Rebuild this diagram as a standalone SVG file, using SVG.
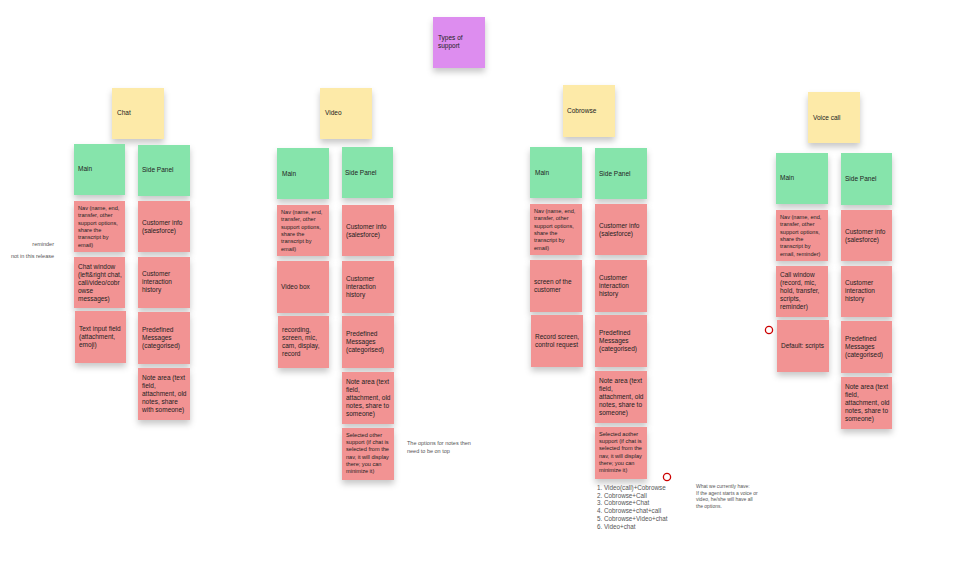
<svg xmlns="http://www.w3.org/2000/svg" width="980" height="574" viewBox="0 0 980 574">
<defs>
<filter id="sh" x="-30%" y="-30%" width="160%" height="180%"><feDropShadow dx="0" dy="4" stdDeviation="3" flood-color="#000" flood-opacity="0.22"/></filter>
<style>
.n{filter:url(#sh)}
.y{fill:#fdeaa8}.g{fill:#86e4ab}.r{fill:#f29393}.p{fill:#dd8def}
text{font-family:"Liberation Sans",Arial,sans-serif;fill:#222}
.t{font-size:6.5px}.s{font-size:5.6px}.a{font-size:5.5px;fill:#555}
.c{fill:none;stroke:#c00;stroke-width:1.3}
</style>
</defs>
<g id="types"><rect class="n p" x="433" y="17" width="52" height="51"/><text class="t" x="438" y="40">Types of</text><text class="t" x="438" y="48">support</text></g>
<g id="connectors"></g>

<g id="chat"><rect class="n y" x="112" y="88" width="52" height="51"/><text class="t" x="117" y="115">Chat</text></g>
<g id="chat-main"><rect class="n g" x="74" y="144" width="51" height="51"/><text class="t" x="78" y="171">Main</text></g>
<g id="chat-side"><rect class="n g" x="138" y="145" width="52" height="51"/><text class="t" x="142" y="172">Side Panel</text></g>
<g id="chat-m1"><rect class="n r" x="74" y="201" width="51" height="51"/><text class="s" x="78" y="210">Nav (name, end,<tspan x="78" dy="7.3">transfer, other</tspan><tspan x="78" dy="7.3">support options,</tspan><tspan x="78" dy="7.3">share the</tspan><tspan x="78" dy="7.3">transcript by</tspan><tspan x="78" dy="7.3">email)</tspan></text></g>
<g id="chat-m2"><rect class="n r" x="74" y="257" width="51" height="51"/><text class="t" x="78" y="269">Chat window<tspan x="78" dy="8">(left&amp;right chat,</tspan><tspan x="78" dy="8">call/video/cobr</tspan><tspan x="78" dy="8">owse</tspan><tspan x="78" dy="8">messages)</tspan></text></g>
<g id="chat-m3"><rect class="n r" x="75" y="311" width="51" height="52"/><text class="t" x="79" y="331">Text input field<tspan x="79" dy="8">(attachment,</tspan><tspan x="79" dy="8">emoji)</tspan></text></g>
<g id="chat-s1"><rect class="n r" x="138" y="201" width="52" height="51"/><text class="t" x="142" y="225">Customer info<tspan x="142" dy="8">(salesforce)</tspan></text></g>
<g id="chat-s2"><rect class="n r" x="138" y="257" width="52" height="51"/><text class="t" x="142" y="276">Customer<tspan x="142" dy="8">interaction</tspan><tspan x="142" dy="8">history</tspan></text></g>
<g id="chat-s3"><rect class="n r" x="138" y="312" width="52" height="52"/><text class="t" x="142" y="332">Predefined<tspan x="142" dy="8">Messages</tspan><tspan x="142" dy="8">(categorised)</tspan></text></g>
<g id="chat-s4"><rect class="n r" x="138" y="368" width="52" height="52"/><text class="t" x="142" y="380">Note area (text<tspan x="142" dy="8">field,</tspan><tspan x="142" dy="8">attachment, old</tspan><tspan x="142" dy="8">notes, share</tspan><tspan x="142" dy="8">with someone)</tspan></text></g>
<text class="a" x="54" y="246" text-anchor="end">reminder</text>
<text class="a" x="54" y="258" text-anchor="end">not in this release</text>

<g id="video"><rect class="n y" x="320" y="88" width="52" height="51"/><text class="t" x="325" y="115">Video</text></g>
<g id="video-main"><rect class="n g" x="277" y="148" width="52" height="51"/><text class="t" x="282" y="176">Main</text></g>
<g id="video-side"><rect class="n g" x="342" y="147" width="51" height="51"/><text class="t" x="345" y="175">Side Panel</text></g>
<g id="video-m1"><rect class="n r" x="277" y="205" width="52" height="51"/><text class="s" x="281" y="214">Nav (name, end,<tspan x="281" dy="7.3">transfer, other</tspan><tspan x="281" dy="7.3">support options,</tspan><tspan x="281" dy="7.3">share the</tspan><tspan x="281" dy="7.3">transcript by</tspan><tspan x="281" dy="7.3">email)</tspan></text></g>
<g id="video-m2"><rect class="n r" x="277" y="261" width="52" height="52"/><text class="t" x="281" y="289">Video box</text></g>
<g id="video-m3"><rect class="n r" x="278" y="316" width="51" height="52"/><text class="t" x="282" y="332">recording,<tspan x="282" dy="8">screen, mic,</tspan><tspan x="282" dy="8">cam, display,</tspan><tspan x="282" dy="8">record</tspan></text></g>
<g id="video-s1"><rect class="n r" x="342" y="205" width="52" height="51"/><text class="t" x="346" y="229">Customer info<tspan x="346" dy="8">(salesforce)</tspan></text></g>
<g id="video-s2"><rect class="n r" x="342" y="261" width="52" height="52"/><text class="t" x="346" y="281">Customer<tspan x="346" dy="8">interaction</tspan><tspan x="346" dy="8">history</tspan></text></g>
<g id="video-s3"><rect class="n r" x="342" y="316" width="52" height="52"/><text class="t" x="346" y="336">Predefined<tspan x="346" dy="8">Messages</tspan><tspan x="346" dy="8">(categorised)</tspan></text></g>
<g id="video-s4"><rect class="n r" x="342" y="372" width="52" height="52"/><text class="t" x="346" y="384">Note area (text<tspan x="346" dy="8">field,</tspan><tspan x="346" dy="8">attachment, old</tspan><tspan x="346" dy="8">notes, share to</tspan><tspan x="346" dy="8">someone)</tspan></text></g>
<g id="video-s5"><rect class="n r" x="342" y="428" width="52" height="52"/><text class="s" x="346" y="437">Selected other<tspan x="346" dy="7.2">support (if chat is</tspan><tspan x="346" dy="7.2">selected from the</tspan><tspan x="346" dy="7.2">nav, it will display</tspan><tspan x="346" dy="7.2">there; you can</tspan><tspan x="346" dy="7.2">minimize it)</tspan></text></g>
<text class="a" x="407" y="445">The options for notes then<tspan x="407" dy="7.5">need to be on top</tspan></text>

<g id="cobrowse"><rect class="n y" x="563" y="85" width="52" height="52"/><text class="t" x="567" y="113">Cobrowse</text></g>
<g id="cob-main"><rect class="n g" x="530" y="147" width="52" height="51"/><text class="t" x="535" y="175">Main</text></g>
<g id="cob-side"><rect class="n g" x="595" y="148" width="52" height="51"/><text class="t" x="599" y="176">Side Panel</text></g>
<g id="cob-m1"><rect class="n r" x="530" y="204" width="52" height="51"/><text class="s" x="534" y="213">Nav (name, end,<tspan x="534" dy="7.3">transfer, other</tspan><tspan x="534" dy="7.3">support options,</tspan><tspan x="534" dy="7.3">share the</tspan><tspan x="534" dy="7.3">transcript by</tspan><tspan x="534" dy="7.3">email)</tspan></text></g>
<g id="cob-m2"><rect class="n r" x="530" y="260" width="52" height="52"/><text class="t" x="534" y="284">screen of the<tspan x="534" dy="8">customer</tspan></text></g>
<g id="cob-m3"><rect class="n r" x="531" y="315" width="52" height="52"/><text class="t" x="535" y="339">Record screen,<tspan x="535" dy="8">control request</tspan></text></g>
<g id="cob-s1"><rect class="n r" x="595" y="204" width="52" height="51"/><text class="t" x="599" y="228">Customer info<tspan x="599" dy="8">(salesforce)</tspan></text></g>
<g id="cob-s2"><rect class="n r" x="595" y="260" width="52" height="52"/><text class="t" x="599" y="280">Customer<tspan x="599" dy="8">interaction</tspan><tspan x="599" dy="8">history</tspan></text></g>
<g id="cob-s3"><rect class="n r" x="595" y="315" width="52" height="52"/><text class="t" x="599" y="335">Predefined<tspan x="599" dy="8">Messages</tspan><tspan x="599" dy="8">(categorised)</tspan></text></g>
<g id="cob-s4"><rect class="n r" x="595" y="371" width="52" height="52"/><text class="t" x="599" y="383">Note area (text<tspan x="599" dy="8">field,</tspan><tspan x="599" dy="8">attachment, old</tspan><tspan x="599" dy="8">notes, share to</tspan><tspan x="599" dy="8">someone)</tspan></text></g>
<g id="cob-s5"><rect class="n r" x="595" y="427" width="52" height="52"/><text class="s" x="599" y="436">Selected aother<tspan x="599" dy="7.2">support (if chat is</tspan><tspan x="599" dy="7.2">selected from the</tspan><tspan x="599" dy="7.2">nav, it will display</tspan><tspan x="599" dy="7.2">there; you can</tspan><tspan x="599" dy="7.2">minimize it)</tspan></text></g>
<circle class="c" cx="667" cy="477" r="3.6"/>
<text class="a" x="597" y="490" style="font-size:6.3px">1. Video(call)+Cobrowse<tspan x="597" dy="7.7">2. Cobrowse+Call</tspan><tspan x="597" dy="7.7">3. Cobrowse+Chat</tspan><tspan x="597" dy="7.7">4. Cobrowse+chat+call</tspan><tspan x="597" dy="7.7">5. Cobrowse+Video+chat</tspan><tspan x="597" dy="7.7">6. Video+chat</tspan></text>
<text class="a" x="696" y="488" style="font-size:5px">What we currently have:<tspan x="696" dy="6.7">If the agent starts a voice or</tspan><tspan x="696" dy="6.7">video, he/she will have all</tspan><tspan x="696" dy="6.7">the options.</tspan></text>

<g id="voice"><rect class="n y" x="808" y="92" width="52" height="51"/><text class="t" x="813" y="120">Voice call</text></g>
<g id="voice-main"><rect class="n g" x="776" y="153" width="52" height="51"/><text class="t" x="780" y="180">Main</text></g>
<g id="voice-side"><rect class="n g" x="841" y="153" width="51" height="52"/><text class="t" x="845" y="181">Side Panel</text></g>
<g id="voice-m1"><rect class="n r" x="776" y="210" width="52" height="51"/><text class="s" x="780" y="219">Nav (name, end,<tspan x="780" dy="7.3">transfer, other</tspan><tspan x="780" dy="7.3">support options,</tspan><tspan x="780" dy="7.3">share the</tspan><tspan x="780" dy="7.3">transcript by</tspan><tspan x="780" dy="7.3">email, reminder)</tspan></text></g>
<g id="voice-m2"><rect class="n r" x="776" y="266" width="52" height="51"/><text class="t" x="780" y="277">Call window<tspan x="780" dy="8">(record, mic,</tspan><tspan x="780" dy="8">hold, transfer,</tspan><tspan x="780" dy="8">scripts,</tspan><tspan x="780" dy="8">reminder)</tspan></text></g>
<g id="voice-m3"><rect class="n r" x="777" y="320" width="52" height="52"/><text class="t" x="781" y="348">Default: scripts</text></g>
<circle class="c" cx="769" cy="330" r="3.6"/>
<g id="voice-s1"><rect class="n r" x="841" y="210" width="51" height="51"/><text class="t" x="845" y="234">Customer info<tspan x="845" dy="8">(salesforce)</tspan></text></g>
<g id="voice-s2"><rect class="n r" x="841" y="266" width="51" height="51"/><text class="t" x="845" y="285">Customer<tspan x="845" dy="8">interaction</tspan><tspan x="845" dy="8">history</tspan></text></g>
<g id="voice-s3"><rect class="n r" x="841" y="321" width="51" height="52"/><text class="t" x="845" y="341">Predefined<tspan x="845" dy="8">Messages</tspan><tspan x="845" dy="8">(categorised)</tspan></text></g>
<g id="voice-s4"><rect class="n r" x="841" y="377" width="51" height="52"/><text class="t" x="845" y="389">Note area (text<tspan x="845" dy="8">field,</tspan><tspan x="845" dy="8">attachment, old</tspan><tspan x="845" dy="8">notes, share to</tspan><tspan x="845" dy="8">someone)</tspan></text></g>
</svg>
